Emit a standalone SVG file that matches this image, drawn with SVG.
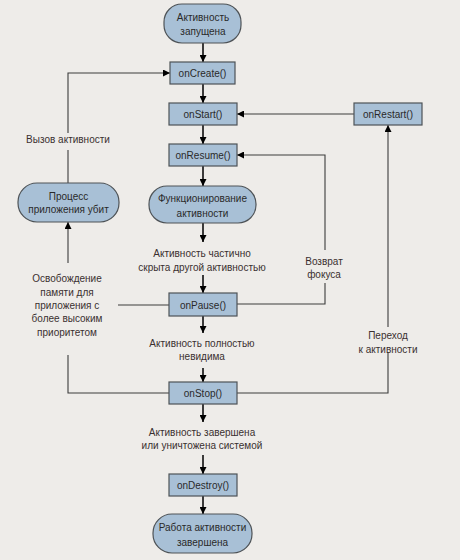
<svg xmlns="http://www.w3.org/2000/svg" width="460" height="560" viewBox="0 0 460 560">
<defs>
<style>
.bg{fill:#eeece9}
.node{fill:#a8c0d6;stroke:#4e5357;stroke-width:1.2}
.nt{font-family:"Liberation Sans",Arial,sans-serif;font-size:10px;fill:#2a2a2a;text-anchor:middle}
.lbl{font-family:"Liberation Sans",Arial,sans-serif;font-size:10px;fill:#3a3030;text-anchor:middle}
.main{stroke:#000;stroke-width:1.5;fill:none}
.con{stroke:#3c3c3c;stroke-width:1.1;fill:none}
</style>
<marker id="ah" viewBox="0 0 10 10" refX="10" refY="5" markerWidth="8" markerHeight="7" markerUnits="userSpaceOnUse" orient="auto">
<path d="M0,0 L10,5 L0,10 z" fill="#000"/>
</marker>
</defs>
<rect class="bg" x="0" y="0" width="460" height="560"/>

<g id="connectors">
<line class="main" x1="203" y1="43" x2="203" y2="62" marker-end="url(#ah)"/>
<line class="main" x1="203" y1="84" x2="203" y2="103" marker-end="url(#ah)"/>
<line class="main" x1="203" y1="125" x2="203" y2="144" marker-end="url(#ah)"/>
<line class="main" x1="203" y1="166" x2="203" y2="186" marker-end="url(#ah)"/>
<line class="main" x1="203" y1="223" x2="203" y2="242" marker-end="url(#ah)"/>
<line class="main" x1="203" y1="275" x2="203" y2="293" marker-end="url(#ah)"/>
<line class="main" x1="203" y1="316" x2="203" y2="333" marker-end="url(#ah)"/>
<line class="main" x1="203" y1="368" x2="203" y2="382" marker-end="url(#ah)"/>
<line class="main" x1="203" y1="404" x2="203" y2="422" marker-end="url(#ah)"/>
<line class="main" x1="203" y1="455" x2="203" y2="474" marker-end="url(#ah)"/>
<line class="main" x1="203" y1="496" x2="203" y2="514" marker-end="url(#ah)"/>

<line class="con" x1="68" y1="183" x2="68" y2="150"/>
<polyline class="con" points="68,133 68,73 170,73" marker-end="url(#ah)"/>
<line class="con" x1="68" y1="263" x2="68" y2="222" stroke="#000" marker-end="url(#ah)"/>
<line class="con" x1="169" y1="305" x2="118" y2="305"/>
<polyline class="con" points="68,355 68,393 169,393"/>

<polyline class="con" points="237,304 325,304 325,283"/>
<polyline class="con" points="325,250 325,155 237,155" marker-end="url(#ah)"/>
<line class="con" x1="354" y1="114" x2="237" y2="114" marker-end="url(#ah)"/>
<polyline class="con" points="237,393 388,393 388,352"/>
<line class="con" x1="388" y1="327" x2="388" y2="125" marker-end="url(#ah)"/>
</g>

<g id="n-start">
<rect class="node" x="164" y="4" width="77" height="39" rx="18" ry="18"/>
<text class="nt" x="203" y="20.5">Активность</text>
<text class="nt" x="203" y="34.5">запущена</text>
</g>
<g id="n-oncreate">
<rect class="node" x="170" y="62" width="65" height="22"/>
<text class="nt" x="202.5" y="76.5">onCreate()</text>
</g>
<g id="n-onstart">
<rect class="node" x="169" y="103" width="68" height="22"/>
<text class="nt" x="203" y="117.5">onStart()</text>
</g>
<g id="n-onrestart">
<rect class="node" x="354" y="103" width="68" height="22"/>
<text class="nt" x="388" y="117.5">onRestart()</text>
</g>
<g id="n-onresume">
<rect class="node" x="169" y="144" width="68" height="22"/>
<text class="nt" x="203" y="158.5">onResume()</text>
</g>
<g id="n-killed">
<rect class="node" x="18" y="183" width="101" height="39" rx="19" ry="19"/>
<text class="nt" x="68.5" y="199.5">Процесс</text>
<text class="nt" x="68.5" y="212.5">приложения убит</text>
</g>
<g id="n-running">
<rect class="node" x="149" y="186" width="107" height="37" rx="18" ry="18"/>
<text class="nt" x="202.5" y="201.5">Функционирование</text>
<text class="nt" x="202.5" y="216.5">активности</text>
</g>
<g id="n-onpause">
<rect class="node" x="169" y="293" width="68" height="23"/>
<text class="nt" x="203" y="308.5">onPause()</text>
</g>
<g id="n-onstop">
<rect class="node" x="169" y="382" width="68" height="22"/>
<text class="nt" x="203" y="396.5">onStop()</text>
</g>
<g id="n-ondestroy">
<rect class="node" x="169" y="474" width="68" height="22"/>
<text class="nt" x="203" y="488.5">onDestroy()</text>
</g>
<g id="n-end">
<rect class="node" x="153" y="514" width="99" height="39" rx="19" ry="19"/>
<text class="nt" x="202.5" y="530.5">Работа активности</text>
<text class="nt" x="202.5" y="545.5">завершена</text>
</g>

<g id="labels">
<text class="lbl" x="68" y="142.5">Вызов активности</text>
<text class="lbl" x="202" y="256.5">Активность частично</text>
<text class="lbl" x="202" y="270.5">скрыта другой активностью</text>
<text class="lbl" x="324" y="264.5">Возврат</text>
<text class="lbl" x="324" y="277.5">фокуса</text>
<text class="lbl" x="67" y="281.5">Освобождение</text>
<text class="lbl" x="67" y="295.5">памяти для</text>
<text class="lbl" x="67" y="308.5">приложения с</text>
<text class="lbl" x="67" y="321.5">более высоким</text>
<text class="lbl" x="67" y="335.5">приоритетом</text>
<text class="lbl" x="202" y="346.5">Активность полностью</text>
<text class="lbl" x="202" y="359.5">невидима</text>
<text class="lbl" x="388" y="338.5">Переход</text>
<text class="lbl" x="388" y="352.5">к активности</text>
<text class="lbl" x="202" y="435.5">Активность завершена</text>
<text class="lbl" x="202" y="448.5">или уничтожена системой</text>
</g>
</svg>
